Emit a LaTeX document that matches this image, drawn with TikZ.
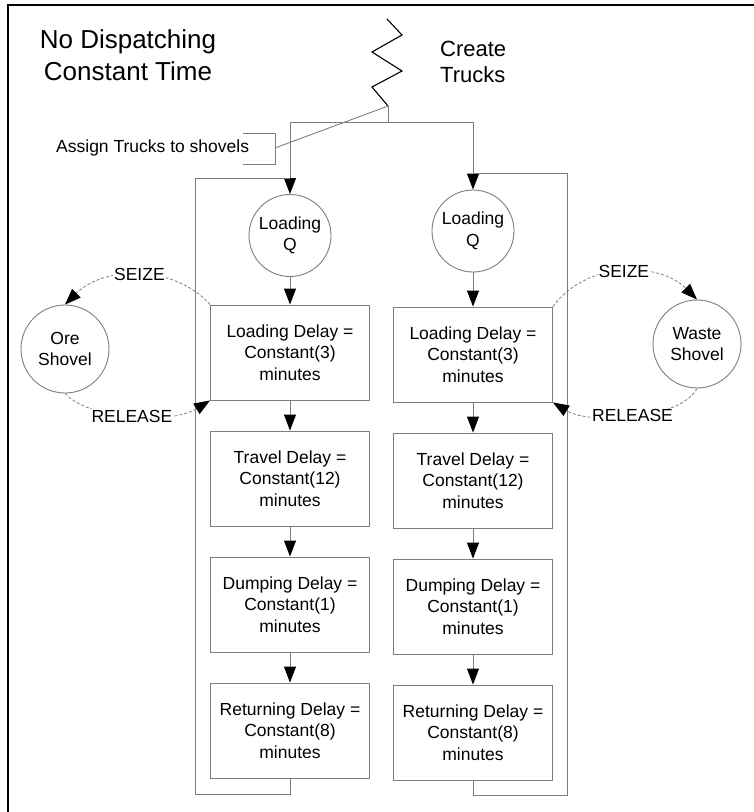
\documentclass[tikz,border=0pt]{standalone}
\usepackage{fontspec}
\setmainfont{Liberation Sans}
\usetikzlibrary{arrows.meta}
\definecolor{linegray}{RGB}{125,125,125}

\begin{document}
\begin{tikzpicture}[x=1pt,y=-1pt,
  txt/.style={font=\fontsize{17.5}{21.5}\selectfont, align=center},
  stepbox/.style={txt, draw=linegray, line width=0.9pt, minimum width=159pt,
    minimum height=95pt, inner sep=0pt},
  queue/.style={txt, circle, draw=linegray, line width=0.9pt, minimum size=82pt, inner sep=0pt},
  resource/.style={queue, minimum size=88pt},
  conn/.style={draw=linegray, line width=0.9pt},
  tip/.style={-{Triangle[width=12pt,length=16pt,color=black,fill=black]}},
  flow/.style={conn, tip},
  link/.style={draw=linegray, line width=0.8pt, dash pattern=on 3pt off 2pt, tip},
  tag/.style={txt, fill=white, inner sep=1pt}
]
\useasboundingbox (0,0) rectangle (754,812);

% frame (left and top edges)
\draw[black, line width=2pt] (8,812) -- (8,5) -- (754,5);

% titles
\node[font=\fontsize{26}{32}\selectfont, align=center] (title) at (128,55) {No Dispatching\\Constant Time};
\node[font=\fontsize{22}{26}\selectfont, align=left, anchor=west, inner sep=0pt] (create) at (440,62) {Create\\Trucks};

% truck generator
\coordinate (spawn) at (388,106);
\coordinate (fork) at (388,122);
\draw[black, line width=1.1pt] (387,19) -- (402,35) -- (372,52) -- (402,71) -- (372,87) -- (spawn);

% assignment note
\node[txt, anchor=west, inner sep=0pt] (assign) at (56,148) {Assign Trucks to shovels};
\coordinate (brk) at (275,148);
\draw[conn] (243,133) -- (275,133) -- (275,164) -- (243,164);
\draw[conn] (brk) -- (spawn);

% queues
\node[queue] (lq) at (290,235.5) {Loading\\Q};
\node[queue] (rq) at (473,231) {Loading\\Q};

% left route
\node[stepbox] (lb1) at (290,352.5) {Loading Delay =\\Constant(3)\\minutes};
\node[stepbox] (lb2) at (290,478.5) {Travel Delay =\\Constant(12)\\minutes};
\node[stepbox] (lb3) at (290,604.5) {Dumping Delay =\\Constant(1)\\minutes};
\node[stepbox] (lb4) at (290,730.5) {Returning Delay =\\Constant(8)\\minutes};

% right route
\node[stepbox] (rb1) at (473,354.5) {Loading Delay =\\Constant(3)\\minutes};
\node[stepbox] (rb2) at (473,480.5) {Travel Delay =\\Constant(12)\\minutes};
\node[stepbox] (rb3) at (473,606.5) {Dumping Delay =\\Constant(1)\\minutes};
\node[stepbox] (rb4) at (473,732.5) {Returning Delay =\\Constant(8)\\minutes};

% shovels
\node[resource] (ore) at (65,349) {Ore\\Shovel};
\node[resource] (waste) at (697,344) {Waste\\Shovel};

% creation split
\draw[conn] (spawn) -- (fork);
\draw[conn] (lq.north |- fork) -- (rq.north |- fork);
\draw[flow] (lq.north |- fork) -- (lq.north);
\draw[flow] (rq.north |- fork) -- (rq.north);

% flow through each route
\draw[flow] (lq) -- (lb1);
\draw[flow] (lb1) -- (lb2);
\draw[flow] (lb2) -- (lb3);
\draw[flow] (lb3) -- (lb4);
\draw[flow] (rq) -- (rb1);
\draw[flow] (rb1) -- (rb2);
\draw[flow] (rb2) -- (rb3);
\draw[flow] (rb3) -- (rb4);

% return loops
\coordinate (lbot) at (195,794);
\coordinate (ltopc) at (195,178);
\draw[conn] (lb4.south) |- (lbot) -- (ltopc) -- (lq.north |- ltopc);
\coordinate (rbot) at (567,795);
\coordinate (rtopc) at (567,173);
\draw[conn] (rb4.south) |- (rbot) -- (rtopc) -- (rq.north |- rtopc);

% seize / release
\draw[link] (lb1.north west) .. controls (175,265) and (105,265) .. (ore.north)
  node[tag, pos=0.5] {SEIZE};
\draw[link] (ore.south) .. controls (90,420) and (170,425) .. (lb1.south west)
  node[tag, pos=0.5] {RELEASE};
\draw[link] (rb1.north east) .. controls (587,260) and (660,262) .. (waste.north)
  node[tag, pos=0.5] {SEIZE};
\draw[link] (waste.south) .. controls (680,420) and (590,425) .. (rb1.south east)
  node[tag, pos=0.5] {RELEASE};
\end{tikzpicture}
\end{document}
